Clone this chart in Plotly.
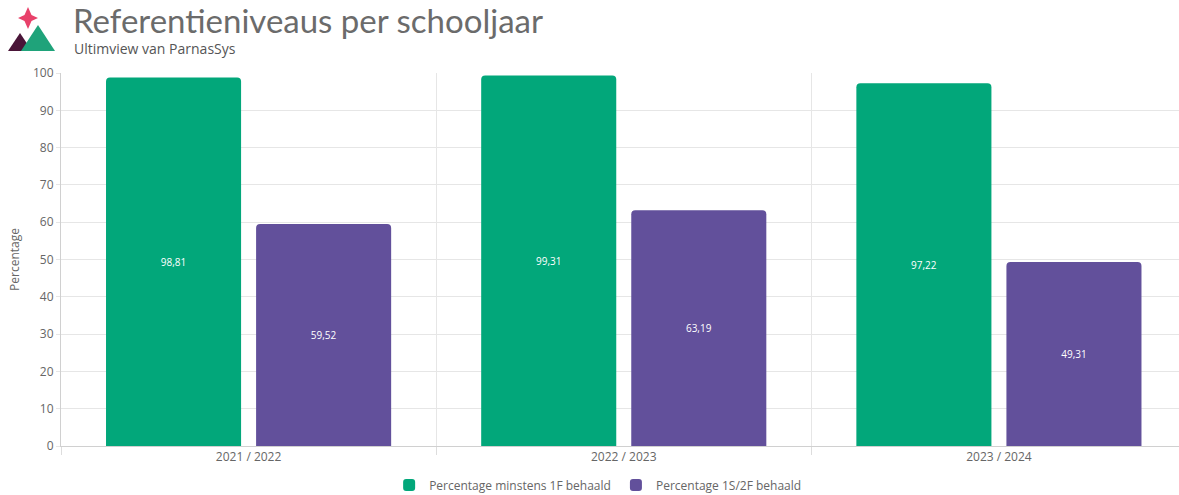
import plotly.graph_objects as go

years = ["2021 / 2022", "2022 / 2023", "2023 / 2024"]
pct_1f = [98.81, 99.31, 97.22]
pct_1s2f = [59.52, 63.19, 49.31]
series_names = ["Percentage minstens 1F behaald", "Percentage 1S/2F behaald"]
colors = ["#02a77a", "#62509b"]

fig = go.Figure()
for name, vals, col in zip(series_names, [pct_1f, pct_1s2f], colors):
    fig.add_trace(go.Bar(
        x=years, y=vals, name=name,
        marker=dict(color=col, cornerradius=4, line=dict(width=0)),
        text=[f"{v:.2f}".replace(".", ",") for v in vals],
        textposition="inside", insidetextanchor="middle",
        textfont=dict(color="white", size=10, family="Open Sans"),
        textangle=0,
    ))

fig.update_layout(
    width=1179, height=495,
    margin=dict(l=61, r=0, t=73, b=49, autoexpand=False),
    paper_bgcolor="white", plot_bgcolor="white",
    barmode="group", bargap=0.2, bargroupgap=0.1,
    separators=",.",
    font=dict(family="Open Sans", color="#666666", size=12),
    showlegend=True,
    legend=dict(orientation="h", x=0.48, xanchor="center", y=-(485 - 446) / 373, yanchor="middle",
                font=dict(size=12, color="#666666"), itemwidth=30,
                bgcolor="rgba(0,0,0,0)"),
    xaxis=dict(range=[-0.5, 2.48], tickson="boundaries", showgrid=True,
               gridcolor="#e6e6e6", ticks="outside", ticklen=8, tickcolor="#dddddd",
               showline=True, linecolor="#d0d0d0", tickfont=dict(size=12, color="#666666")),
    yaxis=dict(range=[0, 100], dtick=10, showgrid=True, gridcolor="#e6e6e6",
               showline=True, linecolor="#d0d0d0", zeroline=False,
               ticks="outside", ticklen=4, tickcolor="#e6e6e6",
               title=dict(text="Percentage", font=dict(size=12, color="#666666"), standoff=10),
               tickfont=dict(size=12, color="#666666")),
)

# Title and subtitle
fig.add_annotation(text="Referentieniveaus per schooljaar", xref="paper", yref="paper",
                   x=(71 - 61) / 1118, y=1 + (73 + 2) / 373, xanchor="left", yanchor="top",
                   showarrow=False, font=dict(size=33, color="#6b6b6b", family="Lato"))
fig.add_annotation(text="Ultimview van ParnasSys", xref="paper", yref="paper",
                   x=(72 - 61) / 1118, y=1 + (73 - 37) / 373, xanchor="left", yanchor="top",
                   showarrow=False, font=dict(size=14, color="#555555", family="Open Sans"))

# Logo (paper-pixel conversion)
def px(x):
    return (x - 61) / 1118
def py(y):
    return (446 - y) / 373

star = [(28, 7), (31.5, 15), (38, 18), (31.5, 21), (28, 29), (24.5, 21), (18, 18), (24.5, 15)]
dark = [(8, 51), (20, 33), (32, 51)]
green = [(21, 51), (38, 25), (55, 51)]
for pts, col in [(star, "#e8416a"), (dark, "#4a1538"), (green, "#1fa37a")]:
    path = "M " + " L ".join(f"{px(a)},{py(b)}" for a, b in pts) + " Z"
    fig.add_shape(type="path", path=path, xref="paper", yref="paper",
                  fillcolor=col, line=dict(width=0), layer="above")

fig.write_html("out.html")
